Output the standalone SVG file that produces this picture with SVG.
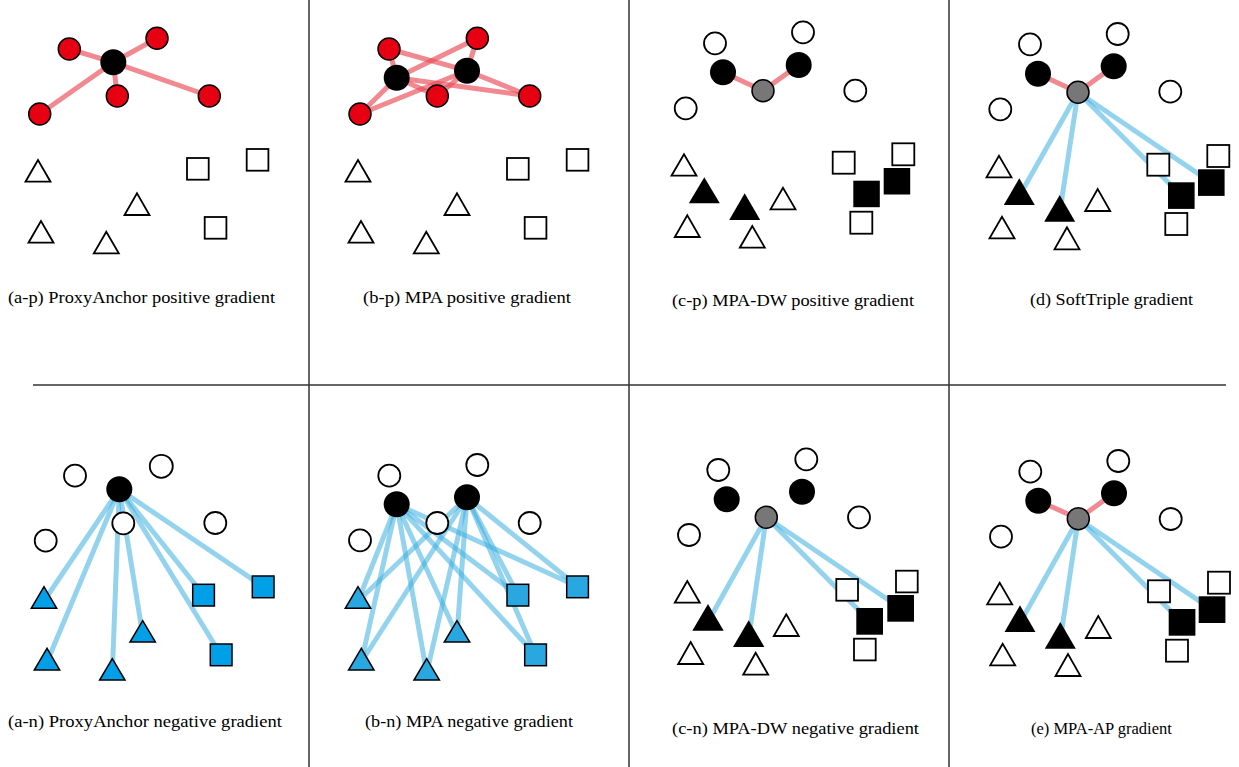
<svg xmlns="http://www.w3.org/2000/svg" width="1239" height="767" viewBox="0 0 1239 767">
<style>
.div{stroke:#333;stroke-width:1.5;fill:none}
.pe{stroke:#e94a55;stroke-opacity:.65;stroke-width:5;fill:none}
.ne{stroke:#3daee0;stroke-opacity:.55;stroke-width:5;fill:none}
.oc,.ot,.os{fill:#fff;stroke:#000;stroke-width:1.8}
.bc,.bt,.bs{fill:#000}
.rc{fill:#e60012;stroke:#000;stroke-width:1.5}
.gc{fill:#777;stroke:#000;stroke-width:1.5}
.bl{fill:#00a0e9;stroke:#000;stroke-width:1.5}
.bl2{fill:#29a7e1;stroke:#000;stroke-width:1.5}
.cap{font-family:"Liberation Serif","Times New Roman",serif;font-size:16.5px;fill:#000}
</style>
<rect width="1239" height="767" fill="#fff"/>
<g id="dividers">
<line class="div" x1="309" y1="0" x2="309" y2="767"/>
<line class="div" x1="629" y1="0" x2="629" y2="767"/>
<line class="div" x1="949" y1="0" x2="949" y2="767"/>
<line class="div" x1="33" y1="385" x2="1226" y2="385"/>
</g>

<!-- ================= connectors ================= -->
<g id="connectors">
<!-- a-p -->
<line class="pe" x1="113.3" y1="62.3" x2="69.3" y2="49"/>
<line class="pe" x1="113.3" y1="62.3" x2="157" y2="38.3"/>
<line class="pe" x1="113.3" y1="62.3" x2="117.3" y2="96"/>
<line class="pe" x1="113.3" y1="62.3" x2="209.3" y2="96"/>
<line class="pe" x1="113.3" y1="62.3" x2="39.7" y2="114"/>
<!-- b-p -->
<line class="pe" x1="396.7" y1="77.7" x2="389" y2="49"/>
<line class="pe" x1="396.7" y1="77.7" x2="477.3" y2="38.3"/>
<line class="pe" x1="396.7" y1="77.7" x2="437.3" y2="96"/>
<line class="pe" x1="396.7" y1="77.7" x2="529.7" y2="96"/>
<line class="pe" x1="396.7" y1="77.7" x2="360" y2="114"/>
<line class="pe" x1="467" y1="70.7" x2="389" y2="49"/>
<line class="pe" x1="467" y1="70.7" x2="477.3" y2="38.3"/>
<line class="pe" x1="467" y1="70.7" x2="437.3" y2="96"/>
<line class="pe" x1="467" y1="70.7" x2="529.7" y2="96"/>
<line class="pe" x1="467" y1="70.7" x2="360" y2="114"/>
<!-- c-p -->
<line class="pe" x1="763" y1="90.7" x2="723" y2="72.3"/>
<line class="pe" x1="763" y1="90.7" x2="798.7" y2="65"/>
<!-- d -->
<line class="pe" x1="1078" y1="92.3" x2="1038" y2="73.7"/>
<line class="pe" x1="1078" y1="92.3" x2="1113.7" y2="66.3"/>
<line class="ne" x1="1078" y1="92.3" x2="1019.3" y2="196"/>
<line class="ne" x1="1078" y1="92.3" x2="1059.7" y2="212.8"/>
<line class="ne" x1="1078" y1="92.3" x2="1181.3" y2="195.5"/>
<line class="ne" x1="1078" y1="92.3" x2="1211.3" y2="182.6"/>
<!-- a-n -->
<line class="ne" x1="119.3" y1="489.3" x2="44" y2="601"/>
<line class="ne" x1="119.3" y1="489.3" x2="47" y2="662"/>
<line class="ne" x1="119.3" y1="489.3" x2="142.7" y2="635"/>
<line class="ne" x1="119.3" y1="489.3" x2="112.3" y2="673"/>
<line class="ne" x1="119.3" y1="489.3" x2="203.5" y2="595"/>
<line class="ne" x1="119.3" y1="489.3" x2="263" y2="586.5"/>
<line class="ne" x1="119.3" y1="489.3" x2="221" y2="655"/>
<!-- b-n -->
<line class="ne" x1="396.7" y1="504.3" x2="358" y2="601"/>
<line class="ne" x1="396.7" y1="504.3" x2="361.3" y2="662"/>
<line class="ne" x1="396.7" y1="504.3" x2="457" y2="635"/>
<line class="ne" x1="396.7" y1="504.3" x2="426.7" y2="673"/>
<line class="ne" x1="396.7" y1="504.3" x2="518" y2="595"/>
<line class="ne" x1="396.7" y1="504.3" x2="577.7" y2="586.5"/>
<line class="ne" x1="396.7" y1="504.3" x2="535.7" y2="655"/>
<line class="ne" x1="467" y1="497.3" x2="358" y2="601"/>
<line class="ne" x1="467" y1="497.3" x2="361.3" y2="662"/>
<line class="ne" x1="467" y1="497.3" x2="457" y2="635"/>
<line class="ne" x1="467" y1="497.3" x2="426.7" y2="673"/>
<line class="ne" x1="467" y1="497.3" x2="518" y2="595"/>
<line class="ne" x1="467" y1="497.3" x2="577.7" y2="586.5"/>
<line class="ne" x1="467" y1="497.3" x2="535.7" y2="655"/>
<!-- c-n -->
<line class="ne" x1="766.3" y1="517.3" x2="708" y2="622"/>
<line class="ne" x1="766.3" y1="517.3" x2="748.7" y2="638"/>
<line class="ne" x1="766.3" y1="517.3" x2="869.7" y2="621.3"/>
<line class="ne" x1="766.3" y1="517.3" x2="900.7" y2="608.3"/>
<!-- e -->
<line class="pe" x1="1078.3" y1="518.7" x2="1038.3" y2="500.7"/>
<line class="pe" x1="1078.3" y1="518.7" x2="1114" y2="493.3"/>
<line class="ne" x1="1078.3" y1="518.7" x2="1020" y2="623"/>
<line class="ne" x1="1078.3" y1="518.7" x2="1060.3" y2="640"/>
<line class="ne" x1="1078.3" y1="518.7" x2="1182" y2="622.3"/>
<line class="ne" x1="1078.3" y1="518.7" x2="1212" y2="609.6"/>
</g>

<!-- ================= panel a-p ================= -->
<g id="ap-anchor"><circle class="bc" cx="113.3" cy="62.3" r="13"/></g>
<g id="ap-r1"><circle class="rc" cx="69.3" cy="49" r="11"/></g>
<g id="ap-r2"><circle class="rc" cx="157" cy="38.3" r="11"/></g>
<g id="ap-r3"><circle class="rc" cx="117.3" cy="96" r="11"/></g>
<g id="ap-r4"><circle class="rc" cx="209.3" cy="96" r="11"/></g>
<g id="ap-r5"><circle class="rc" cx="39.7" cy="114" r="11"/></g>
<g id="ap-t1"><polygon class="ot" points="38,160 25.5,181.7 50.5,181.7"/></g>
<g id="ap-t2"><polygon class="ot" points="137,193.3 124.5,215 149.5,215"/></g>
<g id="ap-t3"><polygon class="ot" points="41,221 28.5,242.7 53.5,242.7"/></g>
<g id="ap-t4"><polygon class="ot" points="106.3,231.7 93.8,253.3 118.8,253.3"/></g>
<g id="ap-s1"><rect class="os" x="187" y="158" width="21.7" height="21.7"/></g>
<g id="ap-s2"><rect class="os" x="246.7" y="149" width="21.7" height="21.7"/></g>
<g id="ap-s3"><rect class="os" x="204.7" y="217" width="21.7" height="21.7"/></g>
<g id="ap-caption"><text class="cap" x="8" y="303" textLength="267" lengthAdjust="spacingAndGlyphs">(a-p) ProxyAnchor positive gradient</text></g>

<!-- ================= panel b-p ================= -->
<g id="bp-anchor1"><circle class="bc" cx="396.7" cy="77.7" r="13"/></g>
<g id="bp-anchor2"><circle class="bc" cx="467" cy="70.7" r="13"/></g>
<g id="bp-r1"><circle class="rc" cx="389" cy="49" r="11"/></g>
<g id="bp-r2"><circle class="rc" cx="477.3" cy="38.3" r="11"/></g>
<g id="bp-r3"><circle class="rc" cx="437.3" cy="96" r="11"/></g>
<g id="bp-r4"><circle class="rc" cx="529.7" cy="96" r="11"/></g>
<g id="bp-r5"><circle class="rc" cx="360" cy="114" r="11"/></g>
<g id="bp-t1"><polygon class="ot" points="358,160 345.5,181.7 370.5,181.7"/></g>
<g id="bp-t2"><polygon class="ot" points="457,193.3 444.5,215 469.5,215"/></g>
<g id="bp-t3"><polygon class="ot" points="361,221 348.5,242.7 373.5,242.7"/></g>
<g id="bp-t4"><polygon class="ot" points="426.3,231.7 413.8,253.3 438.8,253.3"/></g>
<g id="bp-s1"><rect class="os" x="507" y="158" width="21.7" height="21.7"/></g>
<g id="bp-s2"><rect class="os" x="566.7" y="149" width="21.7" height="21.7"/></g>
<g id="bp-s3"><rect class="os" x="524.7" y="217" width="21.7" height="21.7"/></g>
<g id="bp-caption"><text class="cap" x="363" y="303" textLength="208" lengthAdjust="spacingAndGlyphs">(b-p) MPA positive gradient</text></g>

<!-- ================= panel c-p ================= -->
<g id="cp-o1"><circle class="oc" cx="715" cy="43.3" r="11"/></g>
<g id="cp-o2"><circle class="oc" cx="803" cy="32.3" r="11"/></g>
<g id="cp-o3"><circle class="oc" cx="685.7" cy="108.3" r="11"/></g>
<g id="cp-o4"><circle class="oc" cx="855.3" cy="90.7" r="11"/></g>
<g id="cp-b1"><circle class="bc" cx="723" cy="72.3" r="13"/></g>
<g id="cp-b2"><circle class="bc" cx="798.7" cy="65" r="13"/></g>
<g id="cp-anchor"><circle class="gc" cx="763" cy="90.7" r="11"/></g>
<g id="cp-t1"><polygon class="ot" points="684,154.3 671.5,175.7 696.5,175.7"/></g>
<g id="cp-t2"><polygon class="ot" points="783,187.7 770.5,209.3 795.5,209.3"/></g>
<g id="cp-t3"><polygon class="ot" points="687.3,215.3 674.8,237 699.8,237"/></g>
<g id="cp-t4"><polygon class="ot" points="752.3,226 739.8,247.7 764.8,247.7"/></g>
<g id="cp-bt1"><polygon class="bt" points="704.3,177.3 688.8,203.3 719.8,203.3"/></g>
<g id="cp-bt2"><polygon class="bt" points="744.7,193.3 729.2,220 760.2,220"/></g>
<g id="cp-s1"><rect class="os" x="832.7" y="151.7" width="22" height="22"/></g>
<g id="cp-s2"><rect class="os" x="892.3" y="143.3" width="22" height="22"/></g>
<g id="cp-s3"><rect class="os" x="850.3" y="211.7" width="22" height="22"/></g>
<g id="cp-bs1"><rect class="bs" x="853.3" y="180.7" width="26.5" height="26.5"/></g>
<g id="cp-bs2"><rect class="bs" x="883.7" y="168" width="26.5" height="26.5"/></g>
<g id="cp-caption"><text class="cap" x="672" y="306" textLength="242" lengthAdjust="spacingAndGlyphs">(c-p) MPA-DW positive gradient</text></g>

<!-- ================= panel d ================= -->
<g id="d-o1"><circle class="oc" cx="1030" cy="44.3" r="11"/></g>
<g id="d-o2"><circle class="oc" cx="1117.7" cy="34" r="11"/></g>
<g id="d-o3"><circle class="oc" cx="1000.3" cy="109.3" r="11"/></g>
<g id="d-o4"><circle class="oc" cx="1170.3" cy="91.7" r="11"/></g>
<g id="d-b1"><circle class="bc" cx="1038" cy="73.7" r="13"/></g>
<g id="d-b2"><circle class="bc" cx="1113.7" cy="66.3" r="13"/></g>
<g id="d-anchor"><circle class="gc" cx="1078" cy="92.3" r="11"/></g>
<g id="d-t1"><polygon class="ot" points="999,155.7 986.5,177.3 1011.5,177.3"/></g>
<g id="d-t2"><polygon class="ot" points="1097.7,189 1085.2,211 1110.2,211"/></g>
<g id="d-t3"><polygon class="ot" points="1002,216.7 989.5,238.3 1014.5,238.3"/></g>
<g id="d-t4"><polygon class="ot" points="1067,227.3 1054.5,249.3 1079.5,249.3"/></g>
<g id="d-bt1"><polygon class="bt" points="1019.3,178.3 1003.8,205 1034.8,205"/></g>
<g id="d-bt2"><polygon class="bt" points="1059.7,195 1044.2,221.7 1075.2,221.7"/></g>
<g id="d-s1"><rect class="os" x="1147.3" y="153.7" width="22" height="22"/></g>
<g id="d-s2"><rect class="os" x="1207.3" y="145" width="22" height="22"/></g>
<g id="d-s3"><rect class="os" x="1165.3" y="213" width="22" height="22"/></g>
<g id="d-bs1"><rect class="bs" x="1168" y="182.3" width="26.6" height="26.6"/></g>
<g id="d-bs2"><rect class="bs" x="1198" y="169.3" width="26.6" height="26.6"/></g>
<g id="d-caption"><text class="cap" x="1030" y="305" textLength="163" lengthAdjust="spacingAndGlyphs">(d) SoftTriple gradient</text></g>

<!-- ================= panel a-n ================= -->
<g id="an-anchor"><circle class="bc" cx="119.3" cy="489.3" r="13"/></g>
<g id="an-o1"><circle class="oc" cx="75" cy="475.7" r="11"/></g>
<g id="an-o2"><circle class="oc" cx="161.3" cy="466.3" r="11.5"/></g>
<g id="an-o3"><circle class="oc" cx="123.3" cy="523.3" r="11"/></g>
<g id="an-o4"><circle class="oc" cx="215.3" cy="523" r="11"/></g>
<g id="an-o5"><circle class="oc" cx="45.7" cy="540.7" r="11"/></g>
<g id="an-t1"><polygon class="bl" points="44,586.7 31.3,608.3 56.7,608.3"/></g>
<g id="an-t2"><polygon class="bl" points="47,648.3 34.3,670 59.7,670"/></g>
<g id="an-t3"><polygon class="bl" points="142.7,620.7 130,642 155.4,642"/></g>
<g id="an-t4"><polygon class="bl" points="112.3,658.7 99.6,680 125,680"/></g>
<g id="an-s1"><rect class="bl" x="192.7" y="584.3" width="21.7" height="21.7"/></g>
<g id="an-s2"><rect class="bl" x="252.3" y="576" width="21.7" height="21.7"/></g>
<g id="an-s3"><rect class="bl" x="210.3" y="644" width="21.7" height="21.7"/></g>
<g id="an-caption"><text class="cap" x="8" y="727" textLength="274" lengthAdjust="spacingAndGlyphs">(a-n) ProxyAnchor negative gradient</text></g>

<!-- ================= panel b-n ================= -->
<g id="bn-anchor1"><circle class="bc" cx="396.7" cy="504.3" r="13"/></g>
<g id="bn-anchor2"><circle class="bc" cx="467" cy="497.3" r="13"/></g>
<g id="bn-o1"><circle class="oc" cx="389.3" cy="475.7" r="11"/></g>
<g id="bn-o2"><circle class="oc" cx="477.3" cy="465" r="11"/></g>
<g id="bn-o3"><circle class="oc" cx="437.3" cy="523" r="11"/></g>
<g id="bn-o4"><circle class="oc" cx="529.7" cy="523" r="11"/></g>
<g id="bn-o5"><circle class="oc" cx="360" cy="540.3" r="11"/></g>
<g id="bn-t1"><polygon class="bl2" points="358,586.7 345.3,608.3 370.7,608.3"/></g>
<g id="bn-t2"><polygon class="bl2" points="361.3,648.3 348.6,670 374,670"/></g>
<g id="bn-t3"><polygon class="bl2" points="457,620.7 444.3,642 469.7,642"/></g>
<g id="bn-t4"><polygon class="bl2" points="426.7,658.7 414,680 439.4,680"/></g>
<g id="bn-s1"><rect class="bl2" x="507" y="584.3" width="21.7" height="21.7"/></g>
<g id="bn-s2"><rect class="bl2" x="566.7" y="576" width="21.7" height="21.7"/></g>
<g id="bn-s3"><rect class="bl2" x="524.7" y="644" width="21.7" height="21.7"/></g>
<g id="bn-caption"><text class="cap" x="365" y="727" textLength="208" lengthAdjust="spacingAndGlyphs">(b-n) MPA negative gradient</text></g>

<!-- ================= panel c-n ================= -->
<g id="cn-o1"><circle class="oc" cx="718.3" cy="470" r="11"/></g>
<g id="cn-o2"><circle class="oc" cx="806.3" cy="459.3" r="11"/></g>
<g id="cn-o3"><circle class="oc" cx="689" cy="535" r="11"/></g>
<g id="cn-o4"><circle class="oc" cx="859" cy="517.3" r="11"/></g>
<g id="cn-b1"><circle class="bc" cx="726.7" cy="499.3" r="13"/></g>
<g id="cn-b2"><circle class="bc" cx="802" cy="491.7" r="13"/></g>
<g id="cn-anchor"><circle class="gc" cx="766.3" cy="517.3" r="11"/></g>
<g id="cn-t1"><polygon class="ot" points="687.3,581 674.8,602.7 699.8,602.7"/></g>
<g id="cn-t2"><polygon class="ot" points="786.3,614.3 773.8,636 798.8,636"/></g>
<g id="cn-t3"><polygon class="ot" points="690.7,642 678.2,664 703.2,664"/></g>
<g id="cn-t4"><polygon class="ot" points="755.7,652.7 743.2,674.7 768.2,674.7"/></g>
<g id="cn-bt1"><polygon class="bt" points="708,604 692.3,630.7 723.7,630.7"/></g>
<g id="cn-bt2"><polygon class="bt" points="748.7,620.3 733,647 764.4,647"/></g>
<g id="cn-s1"><rect class="os" x="836.3" y="579" width="21.7" height="21.7"/></g>
<g id="cn-s2"><rect class="os" x="896" y="570.7" width="21.7" height="21.7"/></g>
<g id="cn-s3"><rect class="os" x="854" y="638.7" width="21.7" height="21.7"/></g>
<g id="cn-bs1"><rect class="bs" x="856.3" y="608" width="26.7" height="26.7"/></g>
<g id="cn-bs2"><rect class="bs" x="887.3" y="595" width="26.7" height="26.7"/></g>
<g id="cn-caption"><text class="cap" x="672" y="734" textLength="247" lengthAdjust="spacingAndGlyphs">(c-n) MPA-DW negative gradient</text></g>

<!-- ================= panel e ================= -->
<g id="e-o1"><circle class="oc" cx="1030.3" cy="471.7" r="11"/></g>
<g id="e-o2"><circle class="oc" cx="1118.3" cy="461" r="11"/></g>
<g id="e-o3"><circle class="oc" cx="1001" cy="536.7" r="11"/></g>
<g id="e-o4"><circle class="oc" cx="1170.7" cy="519" r="11"/></g>
<g id="e-b1"><circle class="bc" cx="1038.3" cy="500.7" r="13"/></g>
<g id="e-b2"><circle class="bc" cx="1114" cy="493.3" r="13"/></g>
<g id="e-anchor"><circle class="gc" cx="1078.3" cy="518.7" r="11"/></g>
<g id="e-t1"><polygon class="ot" points="999.7,582.7 987.2,604.3 1012.2,604.3"/></g>
<g id="e-t2"><polygon class="ot" points="1098.3,616 1085.8,638 1110.8,638"/></g>
<g id="e-t3"><polygon class="ot" points="1002.7,643.7 990.2,665.3 1015.2,665.3"/></g>
<g id="e-t4"><polygon class="ot" points="1068,654 1055.5,676 1080.5,676"/></g>
<g id="e-bt1"><polygon class="bt" points="1020,605.3 1004.5,632 1035.5,632"/></g>
<g id="e-bt2"><polygon class="bt" points="1060.3,622 1044.8,648.7 1075.8,648.7"/></g>
<g id="e-s1"><rect class="os" x="1148" y="580.3" width="22" height="22"/></g>
<g id="e-s2"><rect class="os" x="1208" y="571.7" width="22" height="22"/></g>
<g id="e-s3"><rect class="os" x="1166" y="639.7" width="22" height="22"/></g>
<g id="e-bs1"><rect class="bs" x="1168.7" y="609" width="26.7" height="26.7"/></g>
<g id="e-bs2"><rect class="bs" x="1198.7" y="596.3" width="26.7" height="26.7"/></g>
<g id="e-caption"><text class="cap" x="1031" y="734">(e) MPA-AP gradient</text></g>
</svg>
